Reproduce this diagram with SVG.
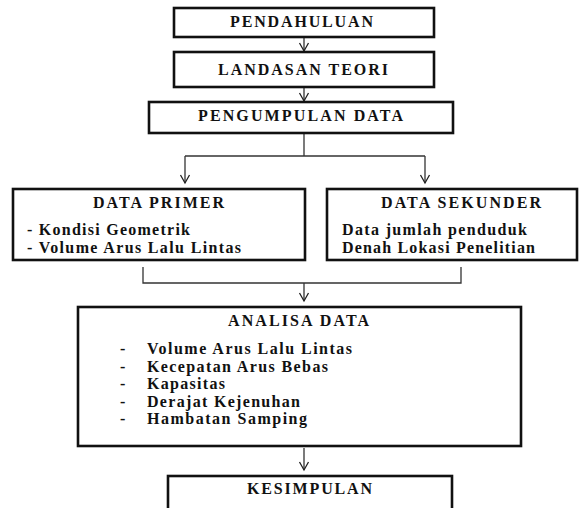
<svg xmlns="http://www.w3.org/2000/svg" width="580" height="508" viewBox="0 0 580 508">
<defs>
<marker id="arr" markerUnits="userSpaceOnUse" markerWidth="12" markerHeight="12" refX="9" refY="5" orient="auto" overflow="visible">
<path d="M1,0.5 L9,5 L1,9.5" fill="none" stroke="#222" stroke-width="1.3"/>
</marker>
</defs>
<style>
.box{fill:#fff;stroke:#111;stroke-width:2.6}
.t{font-family:"Liberation Serif","Times New Roman",serif;font-weight:bold;font-size:16px;fill:#111}
.c{fill:none;stroke:#333;stroke-width:1.3}
</style>
<rect width="580" height="508" fill="#fff"/>
<g id="connectors">
<line class="c" x1="304" y1="37" x2="304" y2="51" marker-end="url(#arr)"/>
<line class="c" x1="304" y1="87" x2="304" y2="101" marker-end="url(#arr)"/>
<polyline class="c" points="304,133 304,156"/>
<polyline class="c" points="185,156 425,156"/>
<line class="c" x1="185" y1="156" x2="185" y2="183" marker-end="url(#arr)"/>
<line class="c" x1="425" y1="156" x2="425" y2="183" marker-end="url(#arr)"/>
<polyline class="c" points="143,267 143,283 461,283 461,267"/>
<line class="c" x1="304" y1="283" x2="304" y2="301" marker-end="url(#arr)"/>
<line class="c" x1="304" y1="448" x2="304" y2="470" marker-end="url(#arr)"/>
</g>
<g id="pendahuluan">
<rect class="box" x="174" y="8" width="260" height="29"/>
<text class="t" x="230" y="27" textLength="143" lengthAdjust="spacing">PENDAHULUAN</text>
</g>
<g id="landasan">
<rect class="box" x="174" y="52" width="260" height="35"/>
<text class="t" x="218" y="75" textLength="170" lengthAdjust="spacing">LANDASAN TEORI</text>
</g>
<g id="pengumpulan">
<rect class="box" x="149" y="102" width="304" height="31"/>
<text class="t" x="198" y="121" textLength="205" lengthAdjust="spacing">PENGUMPULAN DATA</text>
</g>
<g id="primer">
<rect class="box" x="13" y="189" width="292" height="71"/>
<text class="t" x="93" y="208" textLength="131" lengthAdjust="spacing">DATA PRIMER</text>
<text class="t" x="27" y="235" textLength="163" lengthAdjust="spacing">- Kondisi Geometrik</text>
<text class="t" x="27" y="253" textLength="214" lengthAdjust="spacing">- Volume Arus Lalu Lintas</text>
</g>
<g id="sekunder">
<rect class="box" x="327" y="189" width="250" height="71"/>
<text class="t" x="381" y="208" textLength="160" lengthAdjust="spacing">DATA SEKUNDER</text>
<text class="t" x="342" y="235" textLength="185" lengthAdjust="spacing">Data jumlah penduduk</text>
<text class="t" x="342" y="253" textLength="193" lengthAdjust="spacing">Denah Lokasi Penelitian</text>
</g>
<g id="analisa">
<rect class="box" x="78" y="307" width="443" height="139"/>
<text class="t" x="228" y="326" textLength="141" lengthAdjust="spacing">ANALISA DATA</text>
<text class="t" x="120" y="354">-</text>
<text class="t" x="147" y="354" textLength="205" lengthAdjust="spacing">Volume Arus Lalu Lintas</text>
<text class="t" x="120" y="372">-</text>
<text class="t" x="147" y="372" textLength="181" lengthAdjust="spacing">Kecepatan Arus Bebas</text>
<text class="t" x="120" y="389">-</text>
<text class="t" x="147" y="389" textLength="78" lengthAdjust="spacing">Kapasitas</text>
<text class="t" x="120" y="407">-</text>
<text class="t" x="147" y="407" textLength="153" lengthAdjust="spacing">Derajat Kejenuhan</text>
<text class="t" x="120" y="424">-</text>
<text class="t" x="147" y="424" textLength="160" lengthAdjust="spacing">Hambatan Samping</text>
</g>
<g id="kesimpulan">
<rect class="box" x="168" y="476" width="284" height="40"/>
<text class="t" x="247" y="494" textLength="125" lengthAdjust="spacing">KESIMPULAN</text>
</g>
</svg>
